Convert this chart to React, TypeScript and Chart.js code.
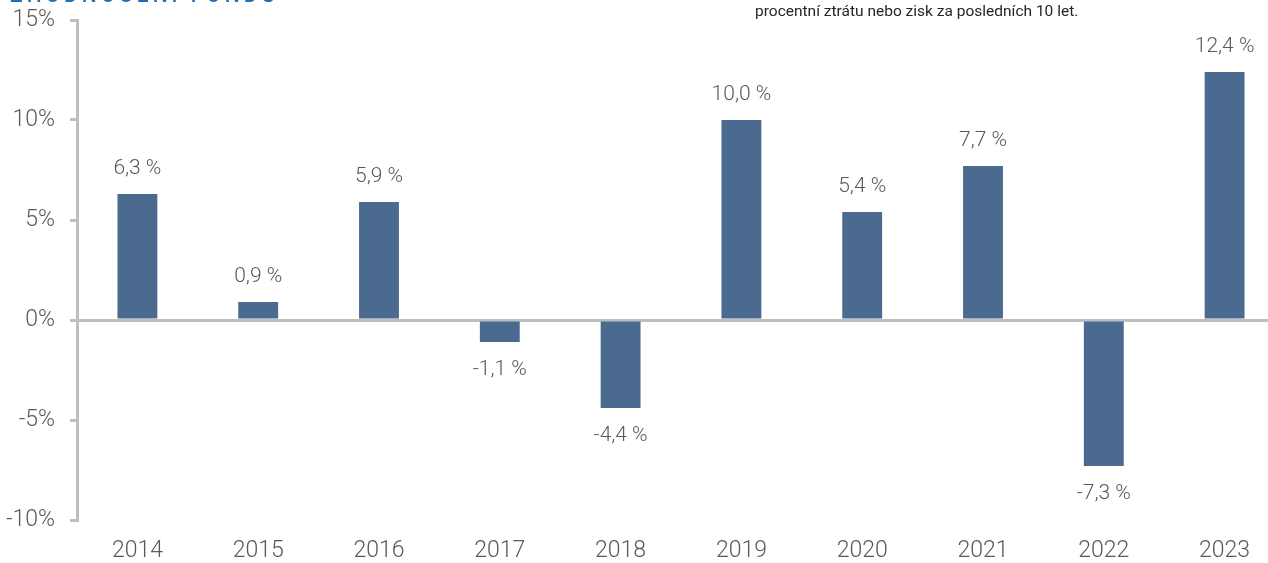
import React, { useEffect, useRef } from "react";
import { Chart, registerables } from "chart.js";

Chart.register(...registerables);

const categories = ["2014", "2015", "2016", "2017", "2018", "2019", "2020", "2021", "2022", "2023"];
const returnsPct = [6.3, 0.9, 5.9, -1.1, -4.4, 10.0, 5.4, 7.7, -7.3, 12.4];
const yTickValues = [-10, -5, 0, 5, 10, 15];
const titleText = "ZHODNOCENÍ FONDU";
const noteText = "procentní ztrátu nebo zisk za posledních 10 let.";

const BAR_COLOR = "#4a6a8f";
const AXIS_COLOR = "#bfbfbf";
const TEXT_COLOR = "#595959";

const fmt = (v: number) => v.toFixed(1).replace(".", ",") + " %";

const valueLabels = {
  id: "valueLabels",
  afterDatasetsDraw(chart: any) {
    const ctx = chart.ctx;
    const meta = chart.getDatasetMeta(0);
    ctx.save();
    ctx.font = "300 21px Roboto";
    ctx.fillStyle = TEXT_COLOR;
    ctx.textAlign = "center";
    ctx.textBaseline = "middle";
    meta.data.forEach((el: any, i: number) => {
      const v = returnsPct[i];
      const y = v >= 0 ? el.y - 25 : el.y + 28;
      ctx.fillText(fmt(v), el.x, y);
    });
    ctx.restore();
  },
};

export default function App() {
  const ref = useRef<HTMLCanvasElement>(null);
  useEffect(() => {
    if (!ref.current) return;
    const chart = new Chart(ref.current, {
      type: "bar",
      data: {
        labels: categories,
        datasets: [
          {
            data: returnsPct,
            backgroundColor: BAR_COLOR,
            barPercentage: 0.66,
            categoryPercentage: 0.5,
          },
        ],
      },
      options: {
        responsive: false,
        animation: false,
        devicePixelRatio: 1,
        layout: { padding: { top: 20, right: 15, left: 0, bottom: 0 } },
        plugins: { legend: { display: false }, tooltip: { enabled: false } },
        scales: {
          x: {
            afterFit: (s: any) => {
              s.height = 43;
              s.paddingLeft = 0;
              s.paddingRight = 0;
            },
            grid: { display: false, drawTicks: false },
            border: { display: false },
            ticks: {
              color: TEXT_COLOR,
              font: { family: "Roboto", size: 23, weight: "300" },
              padding: 17,
            },
          },
          y: {
            min: -10,
            max: 15,
            afterFit: (s: any) => {
              s.width = 77;
              s.paddingTop = 0;
              s.paddingBottom = 0;
            },
            afterBuildTicks: (s: any) => {
              s.ticks = yTickValues.map((v) => ({ value: v }));
            },
            border: { display: true, color: AXIS_COLOR, width: 3 },
            grid: {
              color: (c: any) => (c.tick && c.tick.value === 0 ? AXIS_COLOR : "rgba(0,0,0,0)"),
              tickColor: AXIS_COLOR,
              lineWidth: 3,
              tickLength: 7,
            },
            ticks: {
              color: TEXT_COLOR,
              font: { family: "Roboto", size: 23, weight: "300" },
              padding: 15,
              callback: (v: any) => v + "%",
            },
          },
        },
      },
      plugins: [valueLabels],
    });
    return () => chart.destroy();
  }, []);

  return (
    <div
      style={{
        position: "fixed",
        left: 0,
        top: 0,
        width: 1268,
        height: 563,
        overflow: "hidden",
        background: "#fff",
      }}
    >
      <canvas ref={ref} width={1300} height={563} style={{ position: "absolute", left: 0, top: 0, width: 1300, height: 563 }} />
      <div
        style={{
          position: "absolute",
          left: 10,
          top: -15,
          fontFamily: "Roboto",
          fontWeight: 500,
          fontSize: 21,
          lineHeight: "21px",
          letterSpacing: 4,
          color: "#1f6fb8",
          whiteSpace: "nowrap",
        }}
      >
        {titleText}
      </div>
      <div
        style={{
          position: "absolute",
          left: 755,
          top: 2,
          fontFamily: "Roboto",
          fontSize: 15.5,
          color: "#262626",
          whiteSpace: "nowrap",
        }}
      >
        {noteText}
      </div>
    </div>
  );
}
